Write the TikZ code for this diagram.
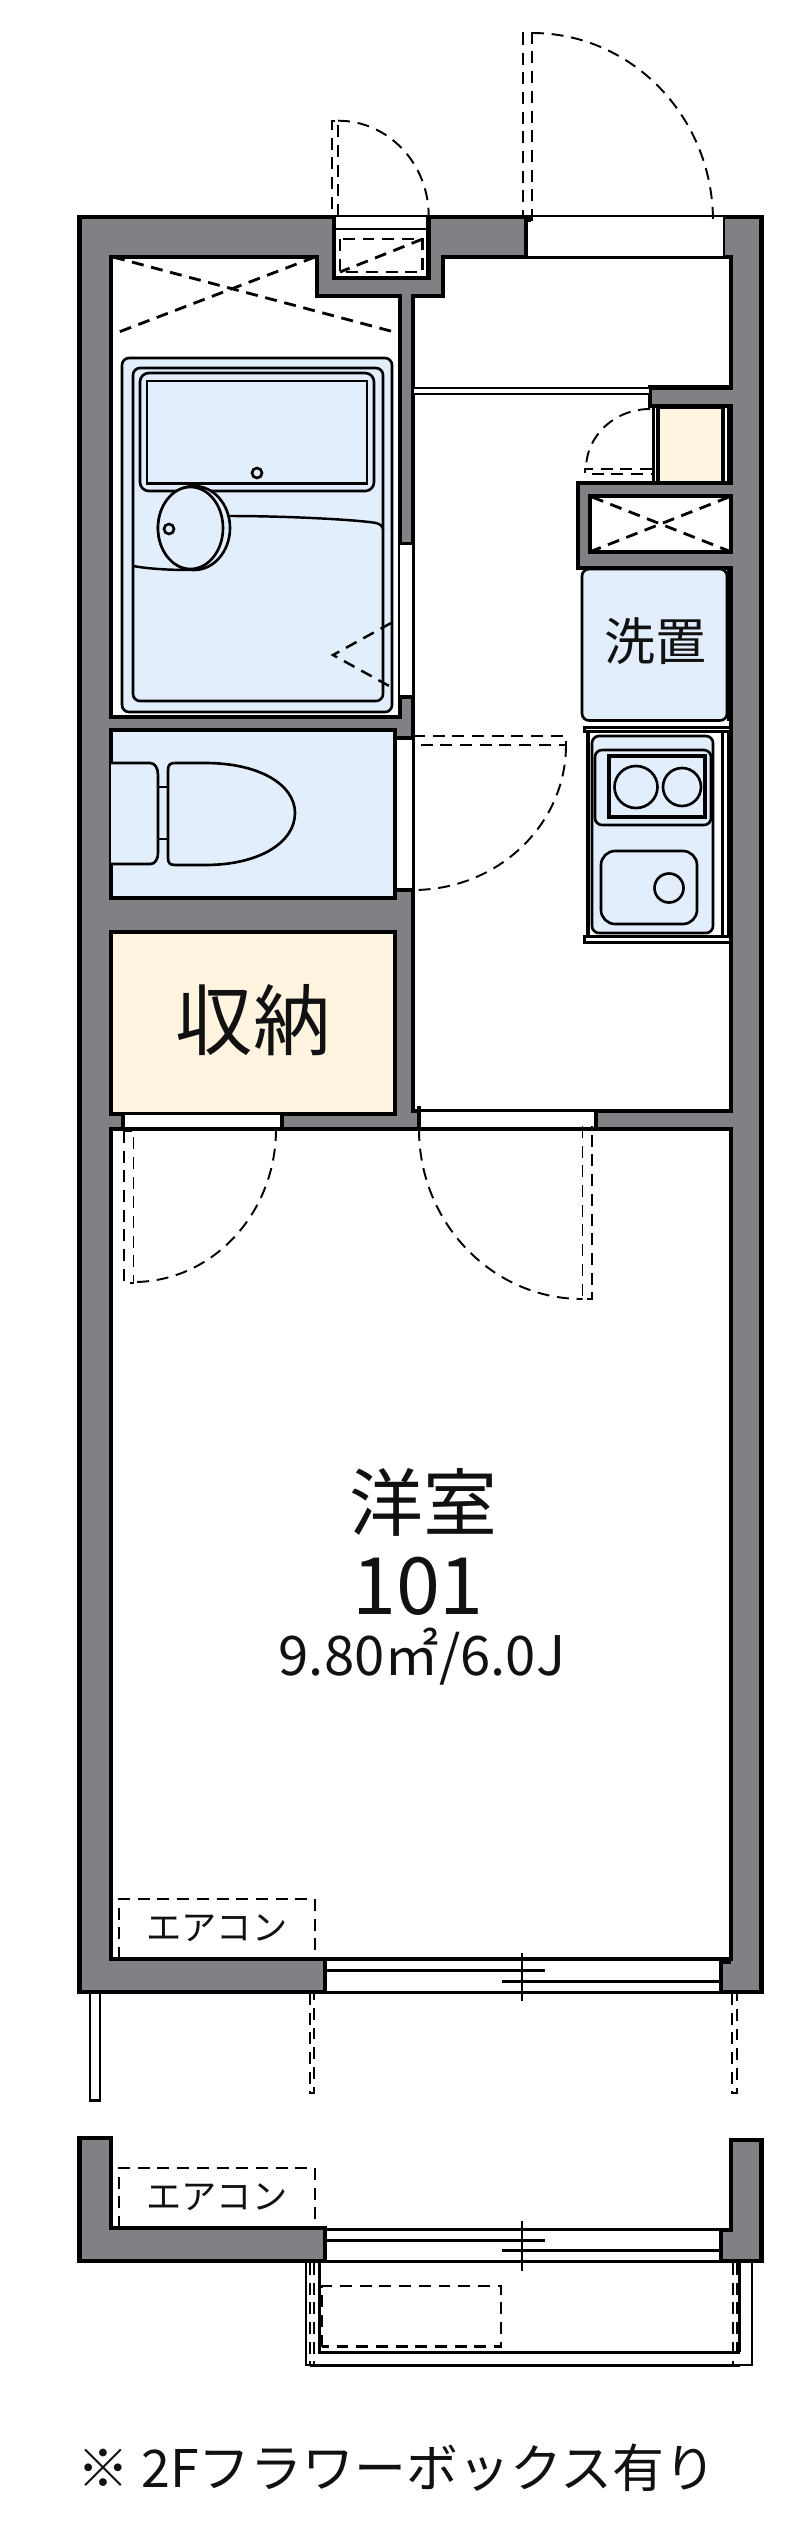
\documentclass[tikz,border=0pt]{standalone}
\usepackage{fontspec}
\setmainfont{Noto Sans CJK JP}
\definecolor{wallgray}{HTML}{808085}
\definecolor{wetblue}{HTML}{E3EEFC}
\definecolor{closetcream}{HTML}{FFF4E0}
\definecolor{inkblack}{HTML}{111111}
\begin{document}
\begin{tikzpicture}[x=0.01cm, y=-0.01cm, line join=miter]

    % Styles
    \tikzstyle{wall}=[draw=black, line width=1.2pt, fill=wallgray]
    \tikzstyle{room}=[draw=black, line width=1.2pt, fill=white]
    \tikzstyle{opening}=[fill=white]
    \tikzstyle{thinline}=[black, line width=0.6pt]
    \tikzstyle{frameline}=[black, line width=0.85pt]
    \tikzstyle{jamb}=[black, line width=1.3pt]
    \tikzstyle{hidden}=[black, line width=0.8pt, dash pattern=on 3.4pt off 2.2pt]
    \tikzstyle{swing}=[black, line width=0.55pt, dash pattern=on 3.4pt off 2.2pt]
    \tikzstyle{fixture}=[draw=black, line width=0.75pt, fill=wetblue]
    \tikzstyle{label}=[inner sep=0pt, text=inkblack]

    \useasboundingbox (0,0) rectangle (800,2539);

    % outer walls
    \draw[wall] (79.5,217) rectangle (761.5,1992);

    % rooms
    \draw[room] (111,257) -- (317,257) -- (317,296) -- (400,296) -- (400,717) -- (111,717) -- cycle;
    \draw[room] (443,257) -- (731,257) -- (731,387.5) -- (650,387.5) -- (650,406) -- (731,406)
        -- (731,483) -- (578,483) -- (578,568) -- (731,568) -- (731,1111) -- (413,1111)
        -- (413,296) -- (443,296) -- cycle;
    \draw[room] (590,496) rectangle (731,552);
    \draw[room, fill=wetblue] (111,730) rectangle (395,898);
    \draw[room, fill=closetcream] (111,932) rectangle (395,1114);
    \draw[room] (111,1129) rectangle (731,1959);
    \draw[room, fill=closetcream, line width=0.9pt] (658,407) rectangle (723,483);
    \draw[frameline] (653,406) -- (653,483);
    \draw[frameline] (728,406) -- (728,483);

    % meter box in the top wall
    \fill[opening] (334,212) rectangle (428.7,278);
    \draw[jamb] (334,217) -- (334,278) -- (428.7,278) -- (428.7,217);
    \draw[thinline] (334,216) -- (428.7,216);
    \draw[frameline] (334,229) -- (428.7,229);
    \draw[hidden] (340,239) rectangle (422.7,272);
    \draw[hidden] (422.7,239) -- (340,272);

    % entrance opening
    \fill[opening] (526,212) rectangle (724,258);
    \draw[thinline] (526,216) -- (724,216) -- (724,257) -- (526,257);
    \draw[jamb] (526,216) -- (526,258);

    % door openings
    \fill[opening] (123,1114) rectangle (282,1130);
    \draw[thinline] (123,1114) -- (282,1114);
    \draw[thinline] (111,1128.5) -- (282,1128.5);
    \draw[jamb] (123,1114) -- (123,1129);
    \draw[jamb] (282,1114) -- (282,1129);
    \fill[opening] (419,1111) rectangle (596,1130);
    \draw[thinline] (419,1111) -- (596,1111);
    \draw[thinline] (419,1128.5) -- (596,1128.5);
    \draw[jamb] (419,1106) -- (419,1129);
    \draw[jamb] (596,1111) -- (596,1129);
    \draw[thinline, fill=white] (396,738) rectangle (413,890);
    \draw[jamb] (396,738) -- (413,738);
    \draw[jamb] (396,890) -- (413,890);
    \draw[frameline, fill=white] (399,543) rectangle (413,697);
    \draw[jamb] (399,697) -- (413,697);
    \draw[frameline, fill=white] (413,388) rectangle (650,394);

    % door swings
    \draw[swing] (338,216) -- (338,120.7) -- (332,120.7) -- (332,216);
    \draw[swing] (338,120.7) arc[start angle=-90, end angle=0, x radius=90.7, y radius=95.3];
    \draw[swing] (532,221) -- (532,33) -- (523,33) -- (523,216);
    \draw[swing] (532,33) arc[start angle=-90, end angle=0, x radius=181, y radius=188];
    \fill[black] (525,217) rectangle (531,222);
    \draw[swing] (413,736) -- (566,736) -- (566,745) -- (413,745);
    \draw[swing] (566,745) arc[start angle=0, end angle=90, x radius=153, y radius=145];
    \draw[swing] (652,469) -- (585,469) -- (585,474) -- (652,474);
    \draw[swing] (650,409) arc[start angle=-90, end angle=-180, x radius=64, y radius=60];
    \draw[swing] (124,1131) -- (124,1283) -- (133.5,1283) -- (133.5,1131) -- cycle;
    \draw[swing] (276,1129) arc[start angle=0, end angle=90, x radius=142.5, y radius=153];
    \draw[swing] (582.5,1126) -- (582.5,1299) -- (592,1299) -- (592,1126);
    \draw[swing] (419,1129) arc[start angle=180, end angle=90, x radius=163.5, y radius=170];

    % pipe spaces
    \draw[hidden] (113,257) -- (398,333);
    \draw[hidden] (315,257) -- (111,335);
    \draw[hidden] (592,497) -- (729,551);
    \draw[hidden] (729,497) -- (592,551);

    % bath
    \draw[fixture, rounded corners=2pt] (122,358) rectangle (392,712);
    \draw[fixture, rounded corners=2pt] (133,368) rectangle (383,701);
    \draw[fixture, rounded corners=2.5pt] (140,373) rectangle (374,491);
    \draw[fixture, line width=0.85pt] (147,381) rectangle (367,483);
    \draw[fixture] (257,473) circle (5);
    \draw[fixture, line width=0.7pt] (230,516) .. controls (290,516) and (360,520) .. (376,523) .. controls (380,524) and (383,526) .. (383,530);
    \draw[fixture, line width=0.7pt, fill=none] (133,566) .. controls (150,569) and (170,570) .. (190,570);
    \draw[fixture] (194,528) ellipse (36 and 42);
    \draw[fixture] (190.5,528) ellipse (32.5 and 41);
    \draw[fixture] (169,529) circle (5);
    \draw[swing, line width=0.7pt] (391,623) -- (333,655) -- (391,687);

    % toilet
    \draw[fixture] (158,787) rectangle (168,839);
    \draw[fixture] (111,763) -- (150,763) .. controls (155,763) and (158,768) .. (158,775) -- (158,852)
        .. controls (158,860) and (155,864) .. (150,864) -- (111,864);
    \draw[fixture] (168,770) .. controls (168,765) and (170,763) .. (175,763) -- (205,763)
        .. controls (260,763) and (295,785) .. (295,813) .. controls (295,842) and (260,865) .. (205,865)
        -- (175,865) .. controls (170,865) and (168,863) .. (168,858) -- cycle;

    % washer
    \draw[fixture, rounded corners=2pt] (582,569) rectangle (727,720.5);
    \draw[jamb] (729,568) -- (729,721);

    % kitchen
    \draw[frameline] (722,731) -- (722,936);
    \draw[frameline] (728,731) -- (728,936);
    \draw[jamb] (588,731) -- (588,936);
    \draw[frameline, fill=white] (584,727) rectangle (730,731);
    \draw[frameline, fill=white] (584,936) rectangle (730,942);
    \draw[fixture, rounded corners=2pt] (592,736) rectangle (713,933);
    \draw[fixture, rounded corners=2pt] (595,750) rectangle (711,825);
    \draw[fixture, line width=0.95pt] (609,756) rectangle (705,817);
    \draw[fixture] (636,787) ellipse (21.5 and 21);
    \draw[fixture] (682,787) ellipse (19 and 19);
    \draw[fixture, rounded corners=4pt] (601,851) rectangle (697,924);
    \draw[fixture] (669,888) ellipse (14.5 and 14.5);

    % front window
    \fill[opening] (325,1959) rectangle (721,1992);
    \draw[frameline] (325,1959.5) -- (731,1959.5);
    \draw[frameline] (325,1970.7) -- (545,1970.7);
    \draw[frameline] (502,1981.7) -- (721,1981.7);
    \draw[frameline] (325,1992) -- (721,1992);
    \draw[thinline] (522,1952.7) -- (522,2000.7);
    \draw[jamb] (325,1959) -- (325,1993);
    \draw[black, line width=0.9pt] (721,1993) -- (721,1962) -- (731,1962);

    % balcony rails of the lower floor
    \draw[frameline] (90,1994) -- (90,2100.7) -- (100,2100.7) -- (100,1994);
    \draw[swing] (310,1993) -- (310,2093) -- (314,2093) -- (314,1993);
    \draw[swing] (732,1993) -- (732,2093) -- (737,2093) -- (737,1993);
    \draw[hidden] (119,1959) -- (119,1899) -- (315,1899) -- (315,1959);

    % upper floor balcony
    \draw[thinline] (305.6,2263) -- (305.6,2365) -- (752,2365) -- (752,2263);
    \draw[frameline] (310,2365) -- (739.5,2365);
    \draw[frameline] (319.4,2263) -- (319.4,2352) -- (739.5,2352);
    \draw[swing] (310,2263) -- (310,2365);
    \draw[swing] (314,2263) -- (314,2365);
    \draw[swing] (733,2263) -- (733,2365);
    \draw[swing] (737,2263) -- (737,2352);
    \draw[thinline] (739.5,2263) -- (739.5,2352);
    \draw[hidden] (322,2346.7) -- (322,2286) -- (501,2286) -- (501,2346.7) -- cycle;

    % upper floor walls and window
    \draw[wall] (79.5,2138) -- (111,2138) -- (111,2228) -- (325,2228) -- (325,2261) -- (79.5,2261) -- cycle;
    \draw[wall] (731,2140) -- (761.5,2140) -- (761.5,2261) -- (721,2261) -- (721,2230) -- (731,2230) -- cycle;
    \draw[frameline] (325,2229) -- (721,2229);
    \draw[frameline] (325,2240) -- (545,2240);
    \draw[frameline] (502,2250.7) -- (721,2250.7);
    \draw[frameline] (325,2261) -- (721,2261);
    \draw[thinline] (522,2221) -- (522,2270.7);
    \draw[hidden] (119,2228) -- (119,2168) -- (315,2168) -- (315,2228);

    % labels
    \node[label, font=\fontsize{22}{22}\selectfont] (closetlabel) at (253,1020) {収納};
    \node[label, font=\fontsize{14.5}{14.5}\selectfont] (washerlabel) at (655,641) {洗置};
    \node[label, font=\fontsize{21}{21}\selectfont] (roomlabel) at (423,1502) {洋室};
    \node[label, font=\fontsize{22.5}{22.5}\selectfont] (roomnumber) at (418,1586) {101};
    \node[label, font=\fontsize{15.5}{15.5}\selectfont] (roomarea) at (422,1657) {9.80㎡/6.0J};
    \node[label, font=\fontsize{10}{10}\selectfont] (aclabel) at (217,1928) {エアコン};
    \node[label, font=\fontsize{10}{10}\selectfont] (acupper) at (217,2197) {エアコン};
    \node[label, font=\fontsize{14.75}{14.75}\selectfont] (flowernote) at (397,2468) {※ 2Fフラワーボックス有り};

\end{tikzpicture}
\end{document}
